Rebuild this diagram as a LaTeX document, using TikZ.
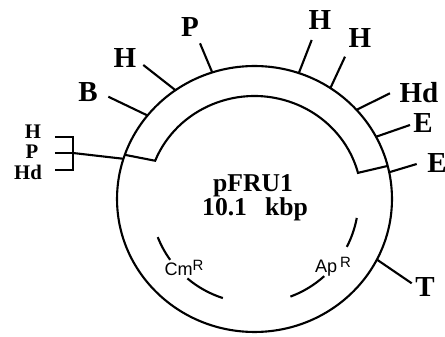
\documentclass[tikz,border=0pt]{standalone}
\usepackage{fontspec}
\setmainfont{Liberation Serif}
\setsansfont{Liberation Sans}
\usetikzlibrary{positioning}
\tikzset{
  cutline/.style={line width=1.2pt},
  site/.style={font=\fontsize{16.5}{18}\selectfont\bfseries, inner sep=0pt},
  smallsite/.style={font=\fontsize{11.8}{12}\selectfont\bfseries, inner sep=0pt},
  gene/.style={font=\fontsize{10.3}{11}\selectfont\sffamily, inner sep=0pt, anchor=base},
  title/.style={font=\fontsize{14.6}{16}\selectfont\bfseries, inner sep=0pt, anchor=base}
}
\newcommand{\resmark}{\raisebox{0.6ex}{\fontsize{8.5}{9}\selectfont R}}

\begin{document}
\begin{tikzpicture}[x=0.02cm, y=0.02cm]
  \useasboundingbox (-254.5,-138) rectangle (190.5,199);
  % plasmid ring and inserted fragment
  \draw[cutline] (0,0) ellipse [x radius=2.75cm, y radius=2.66cm];
  \draw[cutline] (160.6:137.5 and 133) -- (158.2:107 and 103)
    arc[start angle=158.2, end angle=14.7, x radius=2.14cm, y radius=2.06cm]
    -- (14.4:137.5 and 133);
  \node[title] (name) at (-1.5,7) {pFRU1};
  \node[title] (size) at (0.5,-17) {10.1\hspace{0.7em}kbp};

  % resistance genes
  \draw[cutline] (201.5:104) arc[start angle=201.5, end angle=215.8, radius=2.08cm];
  \draw[cutline] (229.8:104) arc[start angle=229.8, end angle=252.3, radius=2.08cm];
  \node[gene] (cm) at (-70.5,-77) {Cm\resmark};
  \draw[cutline] (-10.5:104) arc[start angle=-10.5, end angle=-27.4, radius=2.08cm];
  \draw[cutline] (-47.9:104) arc[start angle=-47.9, end angle=-69.8, radius=2.08cm];
  \node[gene] (ap) at (78.5,-74) {Ap\,\resmark};

  % restriction sites
  \coordinate (b-in) at (141.1:137.5 and 133);
  \coordinate (b-out) at (-146.2,102.3);
  \node[site] (b) at (-166.5,107) {B};
  \draw[cutline] (b-in) -- (b-out);

  \coordinate (h1-in) at (125.1:137.5 and 133);
  \coordinate (h1-out) at (-111.2,134);
  \node[site] (h1) at (-129.5,141) {H};
  \draw[cutline] (h1-in) -- (h1-out);

  \coordinate (p1-in) at (107.9:137.5 and 133);
  \coordinate (p1-out) at (-54.5,155.7);
  \node[site] (p1) at (-64.5,172) {P};
  \draw[cutline] (p1-in) -- (p1-out);

  \coordinate (h2-in) at (71.2:137.5 and 133);
  \coordinate (h2-out) at (57.2,159);
  \node[site] (h2) at (65.5,179) {H};
  \draw[cutline] (h2-in) -- (h2-out);

  \coordinate (h3-in) at (56.5:137.5 and 133);
  \coordinate (h3-out) at (90.5,142.3);
  \node[site] (h3) at (105.5,161) {H};
  \draw[cutline] (h3-in) -- (h3-out);

  \coordinate (hd-in) at (42.1:137.5 and 133);
  \coordinate (hd-out) at (135.5,105.7);
  \node[site] (hd) at (164.5,106) {Hd};
  \draw[cutline] (hd-in) -- (hd-out);

  \coordinate (e1-in) at (27.9:137.5 and 133);
  \coordinate (e1-out) at (155.5,74);
  \node[site] (e1) at (168.5,76) {E};
  \draw[cutline] (e1-in) -- (e1-out);

  \coordinate (e2-in) at (11.6:137.5 and 133);
  \coordinate (e2-out) at (162.2,35);
  \node[site] (e2) at (182.5,36) {E};
  \draw[cutline] (e2-in) -- (e2-out);

  \coordinate (t-in) at (-27.1:137.5 and 133);
  \coordinate (t-out) at (157.2,-84.3);
  \node[site] (t) at (170.5,-88) {T};
  \draw[cutline] (t-in) -- (t-out);

  % clustered sites on the left
  \coordinate (grp-in) at (162.4:137.5 and 133);
  \coordinate (grp-out) at (-181.5,46);
  \node[smallsite] (h4) at (-221.5,67) {H};
  \node[smallsite] (p2) at (-222.5,47) {P};
  \node[smallsite] (hd2) at (-226.5,27) {Hd};
  \draw[cutline] (-199.5,62) -- (-181.5,62) -- (-181.5,29) -- (-199.5,29);
  \draw[cutline] (-199.5,46) -- (grp-out);
  \draw[cutline] (grp-out) -- (grp-in);
\end{tikzpicture}
\end{document}
